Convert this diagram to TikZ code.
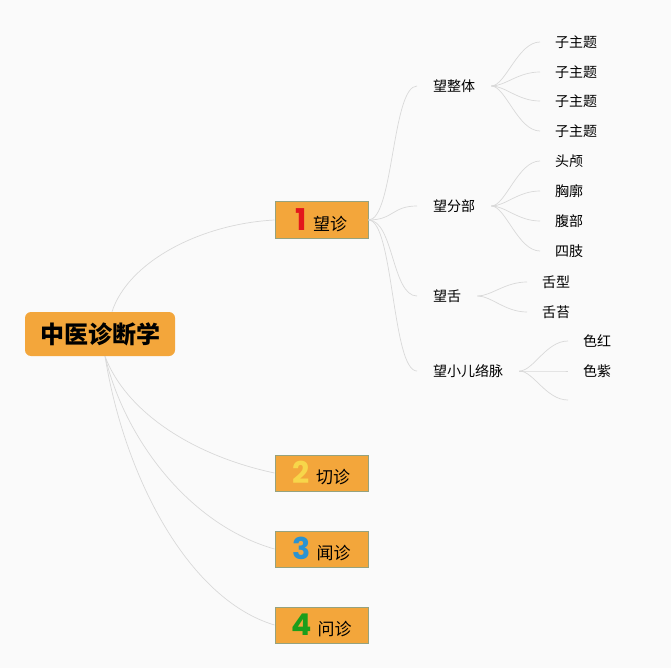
\documentclass[tikz,border=0pt]{standalone}
\usepackage{fontspec}
\setmainfont{Noto Sans CJK SC}
\newfontfamily\numfont{Poppins}
\definecolor{bg}{HTML}{FAFAFA}
\definecolor{boxc}{HTML}{F3A63B}
\definecolor{borderc}{HTML}{95A27E}
\definecolor{linec}{HTML}{D9D9D9}
\definecolor{nred}{HTML}{E3171C}
\definecolor{nyel}{HTML}{F7D64A}
\definecolor{nblu}{HTML}{2B93D1}
\definecolor{ngrn}{HTML}{1B9E1B}
\newcommand\bignum[2]{{\color{#1}\numfont\bfseries\fontsize{30}{30}\selectfont #2}\hspace{6pt}}
\begin{document}
\begin{tikzpicture}[x=1pt,y=-1pt,
  conn/.style={draw=linec, line width=0.7pt},
  rootbox/.style={fill=boxc, rounded corners=6pt, minimum width=150pt, minimum height=44pt, inner sep=0pt, font=\fontsize{24}{24}\selectfont\bfseries},
  topicbox/.style={fill=boxc, draw=borderc, line width=1pt, minimum width=93pt, minimum height=36pt, inner sep=0pt, font=\fontsize{17}{17}\selectfont},
  subt/.style={inner xsep=16pt, inner ysep=2pt, font=\fontsize{14}{14}\selectfont, anchor=west},
  leaf/.style={inner xsep=15pt, inner ysep=2pt, font=\fontsize{14}{14}\selectfont, anchor=west},
  l1curve/.style={conn},
]
\fill[bg] (0,0) rectangle (671,668);
\useasboundingbox (0,0) rectangle (671,668);

% root and main topics
\node[rootbox] (r) at (100,334) {中医诊断学};
\node[topicbox] (b1) at (321.5,220) {\bignum{nred}{1}望诊};
\node[topicbox] (b2) at (321.5,473) {\bignum{nyel}{2}切诊};
\node[topicbox] (b3) at (321.5,549) {\bignum{nblu}{3}闻诊};
\node[topicbox] (b4) at (321.5,625) {\bignum{ngrn}{4}问诊};

% level 2
\node[subt] (s1) at (417,86) {望整体};
\node[subt] (s2) at (417,206) {望分部};
\node[subt] (s3) at (417,296) {望舌};
\node[subt] (s4) at (417,371) {望小儿络脉};

% level 3
\node[leaf] (a1) at (540,42) {子主题};
\node[leaf] (a2) at (540,72) {子主题};
\node[leaf] (a3) at (540,101) {子主题};
\node[leaf] (a4) at (540,131) {子主题};
\node[leaf] (c1) at (540,161) {头颅};
\node[leaf] (c2) at (540,191) {胸廓};
\node[leaf] (c3) at (540,221) {腹部};
\node[leaf] (c4) at (540,251) {四肢};
\node[leaf] (d1) at (527,282) {舌型};
\node[leaf] (d2) at (527,312) {舌苔};
\node[leaf] (e1) at (568,341) {色红};
\node[leaf] (e2) at (568,371) {色紫};
\node[leaf] (e3) at (568,400) {};

% root connectors
\draw[conn] ([xshift=12pt]r.north) .. controls (128,262) and (200,224) .. (b1.west);
\draw[conn] ([xshift=5pt]r.south) .. controls (125,410) and (190,455) .. (b2.west);
\draw[conn] ([xshift=5pt]r.south) .. controls (125,440) and (190,525) .. (b3.west);
\draw[conn] ([xshift=5pt]r.south) .. controls (125,480) and (190,600) .. (b4.west);

% level 1 -> level 2
\foreach \s in {s1,s2,s3,s4}
  \draw[conn] (b1.east) .. controls +(25,0) and +(-25,0) .. (\s.west);

% level 2 -> level 3
\foreach \p/\c in {s1/a1,s1/a2,s1/a3,s1/a4,s2/c1,s2/c2,s2/c3,s2/c4,s3/d1,s3/d2,s4/e1,s4/e2,s4/e3}
  \draw[conn] (\p.east) .. controls +(14,0) and +(-22,0) .. (\c.west);
\end{tikzpicture}
\end{document}
